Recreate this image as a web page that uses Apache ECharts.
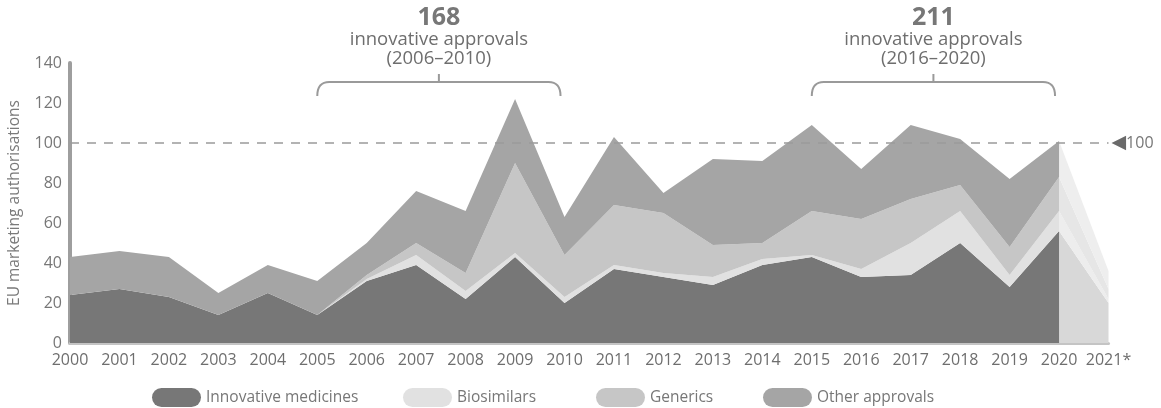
<!DOCTYPE html>
<html><head><meta charset="utf-8">
<script src="https://cdn.jsdelivr.net/npm/echarts/dist/echarts.min.js"></script>
<style>html,body{margin:0;padding:0;background:#fff}#c{width:1161px;height:408px}</style>
</head><body><div id="c"></div>
<script>
// ---- data ----
const years = ['2000','2001','2002','2003','2004','2005','2006','2007','2008','2009','2010','2011','2012','2013','2014','2015','2016','2017','2018','2019','2020','2021*'];
const innovative  = [24,27,23,14,25,14,31,39,22,43,20,37,33,29,39,43,33,34,50,28,56];
const biosimilars = [0,0,0,0,0,0,1,5,4,2,3,2,2,4,3,1,4,16,16,6,10];
const generics    = [0,0,0,0,0,0,2,6,9,45,21,30,30,16,8,22,25,22,13,14,17];
const other       = [19,19,20,11,14,17,16,26,31,32,19,34,10,43,41,43,25,37,23,34,18];
// 2021* (partial year)
const innovative2021 = [20];
const biosimilars2021 = [2];
const generics2021 = [5];
const other2021 = [9];
const refValue = 100;
const legendNames = ['Innovative medicines','Biosimilars','Generics','Other approvals'];
const brackets = [
  {from:'2005', to:'2010', total:'168', label:'innovative approvals', range:'(2006–2010)'},
  {from:'2015', to:'2020', total:'211', label:'innovative approvals', range:'(2016–2020)'}
];

const FONT = "'Open Sans', 'DejaVu Sans', sans-serif";
const colors = {inn:'#777777', bio:'#e1e1e1', gen:'#c6c6c6', oth:'#a5a5a5'};
const projColors = {inn:'#d8d8d8', bio:'#ededed', gen:'#e6e6e6', oth:'#eeeeee'};
const legendLefts = [147, 398, 591, 758];

function proj(main, last){
  const d = years.map(() => '-');
  d[main.length-1] = main[main.length-1];
  d[main.length] = last[0];
  return d;
}
function mainSeries(name, data, color, extra){
  return Object.assign({
    name, type:'line', stack:'main', data, symbol:'none', smooth:false,
    lineStyle:{width:0}, itemStyle:{color}, areaStyle:{color, opacity:1}, z:2
  }, extra||{});
}
function projSeries(name, data, color){
  return {name, type:'line', stack:'proj', data, symbol:'none', lineStyle:{width:0},
    itemStyle:{color}, areaStyle:{color, opacity:1}, z:1, silent:true};
}

const chart = echarts.init(document.getElementById('c'), null, {renderer:'canvas'});
const option = {
  animation:false,
  backgroundColor:'#fff',
  grid:{left:70, right:52.5, top:63, bottom:65, containLabel:false, outerBoundsMode:'none'},
  legend: legendNames.map((n, i) => ({
    data:[n], left:legendLefts[i], top:383, itemWidth:49, itemHeight:19,
    icon:'path://M9.5,0 H39.5 A9.5,9.5 0 0 1 39.5,19 H9.5 A9.5,9.5 0 0 1 9.5,0 Z',
    textStyle:{color:'#777', fontSize:15.5, fontFamily:FONT}
  })),
  xAxis:{
    type:'category', data:years, boundaryGap:false,
    axisLine:{lineStyle:{color:'#c4c4c4', width:3}},
    axisTick:{show:false},
    axisLabel:{color:'#6e6e6e', fontSize:16, fontFamily:FONT, margin:9, interval:0}
  },
  yAxis:{
    type:'value', min:0, max:140, interval:20,
    name:'EU marketing authorisations', nameLocation:'middle', nameGap:47,
    nameTextStyle:{color:'#7a7a7a', fontSize:15.5, fontFamily:FONT},
    axisLine:{show:true, lineStyle:{color:'#9e9e9e', width:4, cap:'round'}},
    axisTick:{show:false}, splitLine:{show:false},
    axisLabel:{color:'#777', fontSize:16, fontFamily:FONT, margin:8}
  },
  series:[
    mainSeries(legendNames[0], innovative, colors.inn),
    mainSeries(legendNames[1], biosimilars, colors.bio),
    mainSeries(legendNames[2], generics, colors.gen),
    mainSeries(legendNames[3], other, colors.oth, {
      markLine:{
        silent:true, symbol:'none', z:5,
        lineStyle:{color:'#9a9a9a', type:[9,8], width:1.5},
        label:{show:true, position:'end', distance:3, formatter:'{t|◀}{v|' + refValue + '}',
          rich:{t:{color:'#6a6a6a', fontSize:19, fontFamily:'DejaVu Sans'}, v:{color:'#777', fontSize:16, fontFamily:FONT}}},
        data:[{yAxis:refValue}]
      }
    }),
    projSeries('Innovative (2021)', proj(innovative, innovative2021), projColors.inn),
    projSeries('Biosimilars (2021)', proj(biosimilars, biosimilars2021), projColors.bio),
    projSeries('Generics (2021)', proj(generics, generics2021), projColors.gen),
    projSeries('Other (2021)', proj(other, other2021), projColors.oth)
  ]
};
chart.setOption(option);

// brackets + annotation texts, positioned through the axis scale
const graphics = [];
function quad(p0, p1, p2, n){
  const pts = [];
  for (let i = 0; i <= n; i++){
    const t = i / n, a = (1-t)*(1-t), b = 2*(1-t)*t, c = t*t;
    pts.push([a*p0[0]+b*p1[0]+c*p2[0], a*p0[1]+b*p1[1]+c*p2[1]]);
  }
  return pts;
}
brackets.forEach(b => {
  const x1 = chart.convertToPixel({xAxisIndex:0}, b.from);
  const x2 = chart.convertToPixel({xAxisIndex:0}, b.to) - 4;
  const xm = (x1 + x2) / 2;
  const y = 82;
  const pts = quad([x1, 96], [x1, y], [x1 + 12, y], 8)
    .concat(quad([x2 - 12, y], [x2, y], [x2, 96], 8));
  graphics.push({type:'polyline', silent:true, shape:{points:pts},
    style:{stroke:'#9a9a9a', fill:null, lineWidth:2}});
  graphics.push({type:'line', silent:true, shape:{x1:xm, y1:y, x2:xm, y2:y-8},
    style:{stroke:'#9a9a9a', lineWidth:2}});
  graphics.push({type:'text', silent:true, style:{text:b.total, x:xm, y:18, align:'center', verticalAlign:'middle',
    fill:'#777', font:`bold 25px ${FONT}`}});
  graphics.push({type:'text', silent:true, style:{text:b.label, x:xm, y:40, align:'center', verticalAlign:'middle',
    fill:'#6e6e6e', font:`18.5px ${FONT}`}});
  graphics.push({type:'text', silent:true, style:{text:b.range, x:xm, y:59, align:'center', verticalAlign:'middle',
    fill:'#6e6e6e', font:`18.5px ${FONT}`}});
});
chart.setOption({graphic:graphics});
</script>
</body></html>
